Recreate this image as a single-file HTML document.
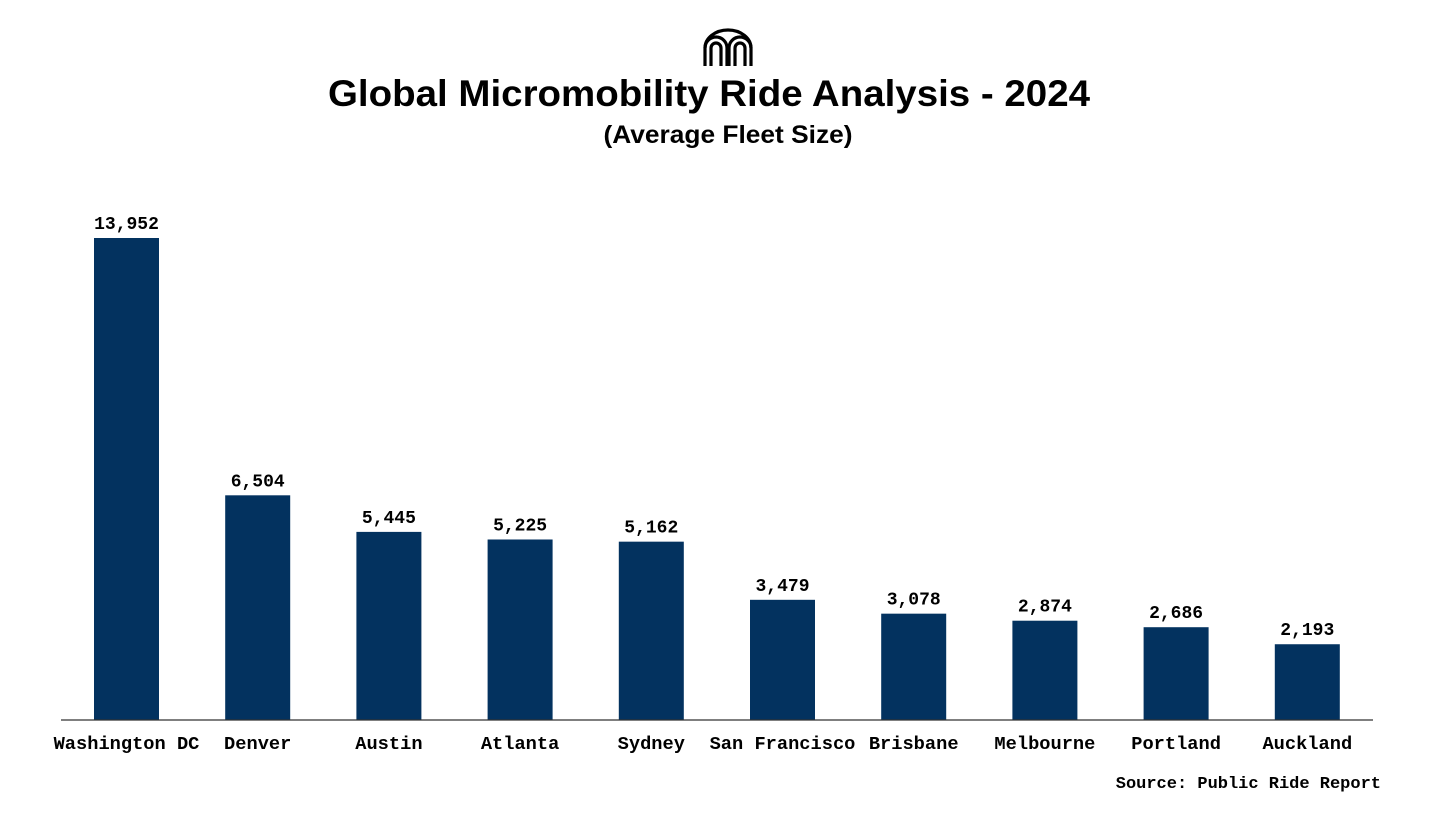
<!DOCTYPE html>
<html><head><meta charset="utf-8"><style>
body{margin:0;background:#fff;width:1456px;height:819px;overflow:hidden}
svg{display:block}
</style></head><body>
<svg id="chart" width="1456" height="819">
<g fill="none" stroke="#000" stroke-width="3.2">
<path d="M705 66 V48 A11 11 0 0 1 727 48 V66 M711 66 V48 A5 5 0 0 1 721 48 V66"/>
<path d="M729 66 V48 A11 11 0 0 1 751 48 V66 M735 66 V48 A5 5 0 0 1 745 48 V66"/>
<path d="M705 48 A23 18 0 0 1 751 48" />
</g>
<text x="709" y="106" text-anchor="middle" textLength="762" lengthAdjust="spacingAndGlyphs" font-family="Liberation Sans, sans-serif" font-weight="bold" font-size="37">Global Micromobility Ride Analysis - 2024</text>
<text x="728" y="143" text-anchor="middle" textLength="249" lengthAdjust="spacingAndGlyphs" font-family="Liberation Sans, sans-serif" font-weight="bold" font-size="25">(Average Fleet Size)</text>
<g id="bars"></g>
<line x1="61" y1="720" x2="1373" y2="720" stroke="#333" stroke-width="1.2"/>
<text x="1381" y="788" text-anchor="end" font-family="Liberation Mono, monospace" font-weight="bold" font-size="17">Source: Public Ride Report</text>
</svg>
<script>
const categories=["Washington DC","Denver","Austin","Atlanta","Sydney","San Francisco","Brisbane","Melbourne","Portland","Auckland"];
const values=[13952,6504,5445,5225,5162,3479,3078,2874,2686,2193];
const labels=["13,952","6,504","5,445","5,225","5,162","3,479","3,078","2,874","2,686","2,193"];
const NS="http://www.w3.org/2000/svg";
const g=document.getElementById('bars');
const base=720, scale=482/13952;
const xc=i=>126.5+i*131.2;
const y=v=>base-v*scale;
categories.forEach((c,i)=>{
  const r=document.createElementNS(NS,'rect');
  r.setAttribute('x',xc(i)-32.5);r.setAttribute('width',65);
  r.setAttribute('y',y(values[i]));r.setAttribute('height',base-y(values[i]));
  r.setAttribute('fill','#03325f');
  
  
  g.appendChild(r);
  const t=document.createElementNS(NS,'text');
  t.setAttribute('x',xc(i));t.setAttribute('y',y(values[i])-9);
  t.setAttribute('text-anchor','middle');t.setAttribute('font-family','Liberation Mono, monospace');
  t.setAttribute('font-weight','bold');t.setAttribute('font-size','18');
  t.textContent=labels[i];
  
  
  g.appendChild(t);
  const l=document.createElementNS(NS,'text');
  l.setAttribute('x',xc(i));l.setAttribute('y',749);
  l.setAttribute('text-anchor','middle');l.setAttribute('font-family','Liberation Mono, monospace');
  l.setAttribute('font-weight','bold');l.setAttribute('font-size','18.7');
  l.textContent=c;
  
  
  g.appendChild(l);
});
</script>
</body></html>
